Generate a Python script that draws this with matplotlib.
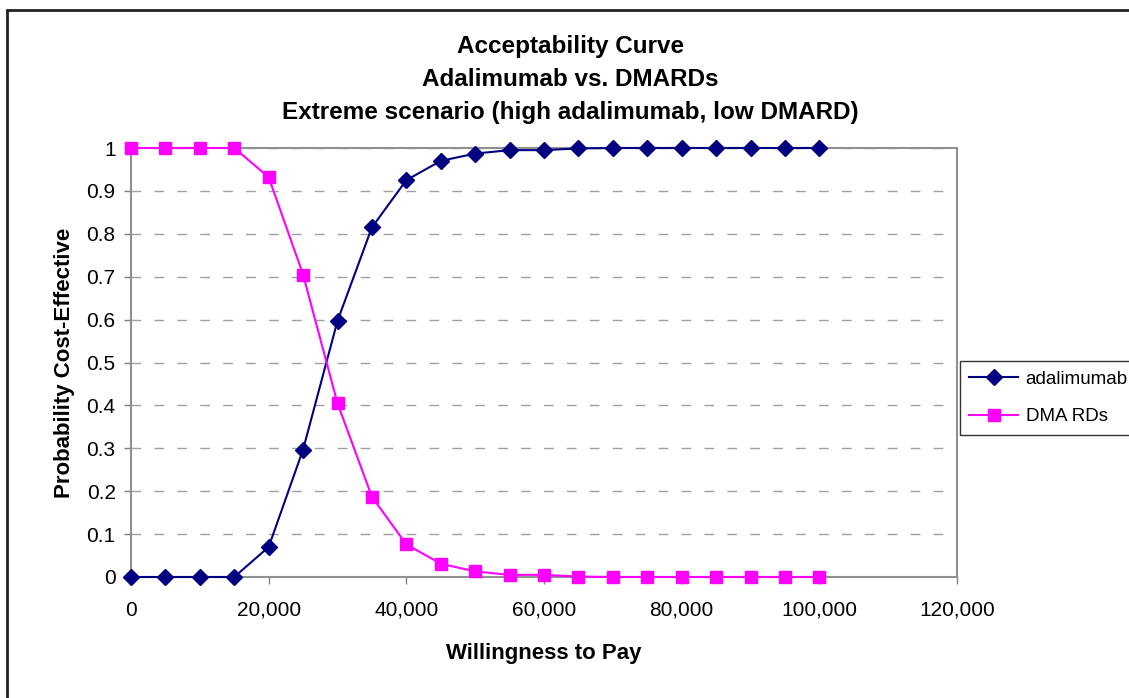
import matplotlib.pyplot as plt
from matplotlib.patches import Rectangle
from matplotlib.ticker import FuncFormatter

plt.rcParams['font.family'] = ['Liberation Sans', 'DejaVu Sans']

wtp = [0, 5000, 10000, 15000, 20000, 25000, 30000, 35000, 40000, 45000, 50000,
       55000, 60000, 65000, 70000, 75000, 80000, 85000, 90000, 95000, 100000]
adalimumab = [0, 0, 0, 0, 0.07, 0.297, 0.597, 0.815, 0.925, 0.970, 0.987,
              0.995, 0.995, 0.999, 1, 1, 1, 1, 1, 1, 1]
dmards = [1, 1, 1, 1, 0.932, 0.705, 0.405, 0.187, 0.076, 0.031, 0.013,
          0.005, 0.005, 0.001, 0, 0, 0, 0, 0, 0, 0]

title_lines = ["Acceptability Curve", "Adalimumab vs. DMARDs",
               "Extreme scenario (high adalimumab, low DMARD)"]

fig = plt.figure(figsize=(11.29, 6.98), dpi=100)
ax = fig.add_axes([131 / 1129, 1 - 577 / 698, 826 / 1129, 429 / 698])

ax.plot(wtp, adalimumab, color='#000080', lw=1.5, marker='D', ms=8.5,
        label='adalimumab', clip_on=False, zorder=3)
ax.plot(wtp, dmards, color='#FF00FF', lw=1.5, marker='s', ms=8,
        label='DMA RDs', clip_on=False, zorder=3)

ax.set_xlim(0, 120000)
ax.set_ylim(0, 1)
ax.set_xticks(range(0, 120001, 20000))
ax.set_yticks([i / 10 for i in range(11)])
ax.xaxis.set_major_formatter(FuncFormatter(lambda v, p: f"{int(v):,}"))
ax.yaxis.set_major_formatter(FuncFormatter(lambda v, p: "0" if v == 0 else ("1" if v == 1 else f"{v:.1f}")))
ax.tick_params(labelsize=15, length=5, color='#808080', width=1)
ax.tick_params(axis='x', pad=12)
ax.tick_params(axis='y', pad=6)
ax.grid(axis='y', linestyle=(0, (7, 9.5)), color='#a0a0a0', lw=1)
for s in ax.spines.values():
    s.set_color('#909090')
    s.set_linewidth(1.5)

ax.set_xlabel("Willingness to Pay", fontsize=16, fontweight='bold', labelpad=17)
ax.set_ylabel("Probability Cost-Effective", fontsize=16, fontweight='bold', labelpad=8)

for i, t in enumerate(title_lines):
    fig.text(0.505, 1 - (47 + 33 * i) / 698, t, ha='center', va='center',
             fontsize=17.5, fontweight='bold')

fig.legend(loc='upper left', bbox_to_anchor=(960 / 1129, 1 - 361 / 698),
           frameon=True, fancybox=False, edgecolor='black', fontsize=13.5,
           borderpad=0.5, handlelength=2.6, handletextpad=0.4,
           labelspacing=1.1, borderaxespad=0)

# outer chart frame
fig.add_artist(Rectangle((7 / 1129, -0.05), 1.2, 1 - 10 / 698 + 0.05,
                         transform=fig.transFigure, fill=False,
                         edgecolor='#202020', lw=2))

fig.savefig('out.png', dpi=100)
